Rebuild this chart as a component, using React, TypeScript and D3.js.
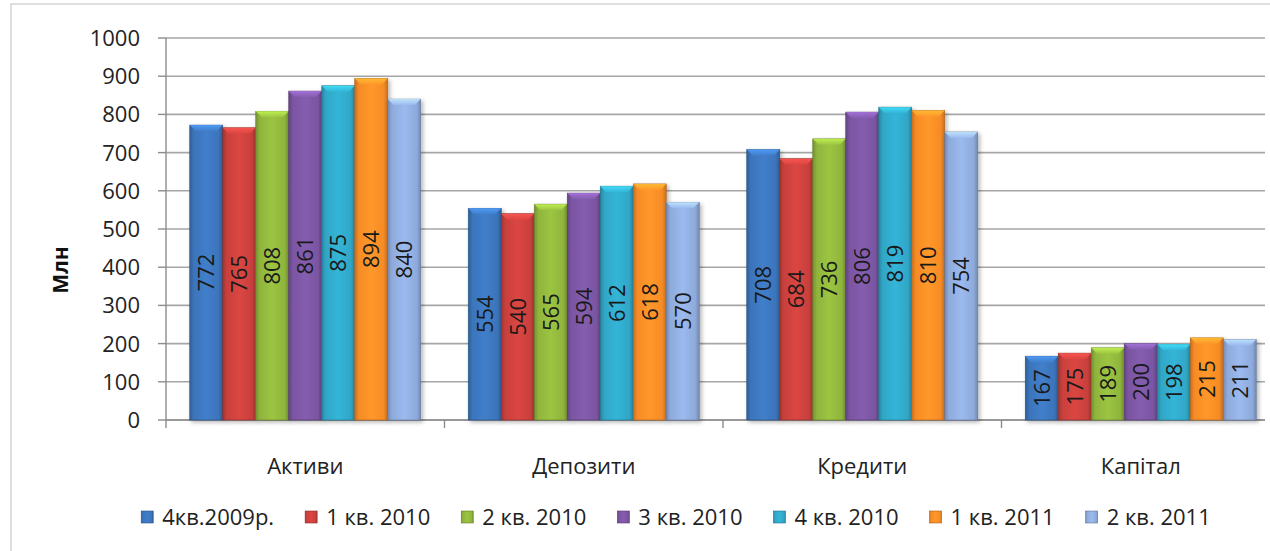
import React, { useLayoutEffect, useRef, useState } from "react";
import * as d3 from "d3";

const categories = ["Активи", "Депозити", "Кредити", "Капітал"];
const seriesNames = ["4кв.2009р.", "1 кв. 2010", "2 кв. 2010", "3 кв. 2010", "4 кв. 2010", "1 кв. 2011", "2 кв. 2011"];
const q4_2009 = [772, 554, 708, 167];
const q1_2010 = [765, 540, 684, 175];
const q2_2010 = [808, 565, 736, 189];
const q3_2010 = [861, 594, 806, 200];
const q4_2010 = [875, 612, 819, 198];
const q1_2011 = [894, 618, 810, 215];
const q2_2011 = [840, 570, 754, 211];
const seriesValues = [q4_2009, q1_2010, q2_2010, q3_2010, q4_2010, q1_2011, q2_2011];
const yTicks = [0, 100, 200, 300, 400, 500, 600, 700, 800, 900, 1000];
const colors = ["#3b74ba", "#c8403c", "#8fb43c", "#7a55a1", "#30a6c6", "#f68b26", "#8eaadb"];

const W = 1270, H = 551;
const left = 166, right = 1280, top = 38, bottom = 420;
const gridRight = 1265;
const FONT = "'Open Sans', 'DejaVu Sans', sans-serif";

export default function App() {
  const y = d3.scaleLinear().domain([0, 1000]).range([bottom, top]);
  const x0 = d3.scaleBand<string>().domain(categories).range([left, right]).paddingInner(0).paddingOuter(0);
  const x1 = d3.scaleBand<string>().domain(seriesNames).range([0, x0.bandwidth()]).paddingInner(0).paddingOuter(0.72);

  const legendRefs = useRef<(SVGTextElement | null)[]>([]);
  const [widths, setWidths] = useState<number[]>(seriesNames.map(() => 100));
  useLayoutEffect(() => {
    const w = legendRefs.current.map((t) => (t ? t.getComputedTextLength() : 100));
    setWidths(w);
  }, []);
  const markerSize = 12, markerGap = 9, itemGap = 31;
  const totalW = widths.reduce((s, w) => s + markerSize + markerGap + w, 0) + itemGap * (widths.length - 1);
  let lx = 676 - totalW / 2;
  const legendX: number[] = widths.map((w) => {
    const cur = lx;
    lx += markerSize + markerGap + w + itemGap;
    return cur;
  });

  return (
    <svg width={W} height={H} style={{ position: "absolute", left: 0, top: 0, background: "#fff" }} fontFamily={FONT}>
      <defs>
        {colors.map((c, i) => {
          const dark = d3.color(c)!.darker(0.6).toString();
          const light = d3.color(c)!.brighter(0.25).toString();
          return (
            <React.Fragment key={i}>
              <linearGradient id={`g${i}`} x1="0" x2="1" y1="0" y2="0">
                <stop offset="0" stopColor={dark} />
                <stop offset="0.12" stopColor={c} />
                <stop offset="0.5" stopColor={light} />
                <stop offset="0.88" stopColor={c} />
                <stop offset="1" stopColor={dark} />
              </linearGradient>
              <linearGradient id={`t${i}`} x1="0" x2="0" y1="0" y2="1">
                <stop offset="0" stopColor={d3.color(c)!.brighter(0.9).toString()} />
                <stop offset="1" stopColor={light} />
              </linearGradient>
            </React.Fragment>
          );
        })}
        <filter id="sh" x="-20%" y="-5%" width="140%" height="115%">
          <feDropShadow dx="2" dy="2" stdDeviation="2" floodColor="#000" floodOpacity="0.3" />
        </filter>
      </defs>
      <rect x={11} y={4} width={1300} height={600} fill="#fff" stroke="#c8c8c8" strokeWidth={1.2} />

      {/* gridlines */}
      {yTicks.map((t) => (
        <line key={t} x1={left} x2={gridRight} y1={y(t)} y2={y(t)} stroke="#a6a6a6" strokeWidth={1.6} />
      ))}
      {/* y axis */}
      <line x1={left} x2={left} y1={top} y2={bottom} stroke="#8c8c8c" strokeWidth={1.4} />
      {yTicks.map((t) => (
        <g key={`yt${t}`}>
          <line x1={left - 8} x2={left} y1={y(t)} y2={y(t)} stroke="#8c8c8c" strokeWidth={1.4} />
          <text x={140} y={y(t)} dy="0.36em" textAnchor="end" fontSize={22} fill="#222">{t}</text>
        </g>
      ))}
      {/* x axis ticks */}
      {categories.map((c) => (
        <line key={`xt${c}`} x1={x0(c)!} x2={x0(c)!} y1={bottom} y2={bottom + 8} stroke="#8c8c8c" strokeWidth={1.4} />
      ))}
      <line x1={left} x2={gridRight} y1={bottom} y2={bottom} stroke="#8c8c8c" strokeWidth={1.4} />

      {/* bars */}
      {categories.map((c, ci) => (
        <g key={c} transform={`translate(${x0(c)},0)`}>
          {seriesNames.map((s, si) => {
            const v = seriesValues[si][ci];
            const bx = x1(s)!;
            const bw = x1.bandwidth();
            const by = y(v);
            const bh = bottom - by;
            const bev = 6;
            return (
              <g key={s}>
                <rect x={bx} y={by} width={bw} height={bh} fill={`url(#g${si})`} stroke={d3.color(colors[si])!.darker(1).toString()} strokeWidth={0.6} filter="url(#sh)" />
                <polygon points={`${bx},${by} ${bx + bw},${by} ${bx + bw - bev},${by + bev} ${bx + bev},${by + bev}`} fill={`url(#t${si})`} opacity={0.85} />
                <text transform={`translate(${bx + bw / 2},${by + bh / 2}) rotate(-90)`} textAnchor="middle" dy="0.36em" fontSize={22} fill="#1a1a1a">{v}</text>
              </g>
            );
          })}
        </g>
      ))}

      {/* category labels */}
      {categories.map((c) => (
        <text key={`cl${c}`} x={x0(c)! + x0.bandwidth() / 2} y={466} dy="0.36em" textAnchor="middle" fontSize={22} fill="#222">{c}</text>
      ))}

      {/* y axis title */}
      <text transform={`translate(60,270) rotate(-90)`} textAnchor="middle" dy="0.36em" fontSize={21} fontWeight="bold" fill="#111">Млн</text>

      {/* legend */}
      {seriesNames.map((s, i) => (
        <g key={`lg${s}`} transform={`translate(${legendX[i]},517)`}>
          <rect x={0} y={-markerSize / 2} width={markerSize} height={markerSize} fill={`url(#g${i})`} stroke={d3.color(colors[i])!.darker(1).toString()} strokeWidth={0.6} />
          <text ref={(el) => { legendRefs.current[i] = el; }} x={markerSize + markerGap} y={0} dy="0.36em" fontSize={22} fill="#222">{s}</text>
        </g>
      ))}
    </svg>
  );
}
